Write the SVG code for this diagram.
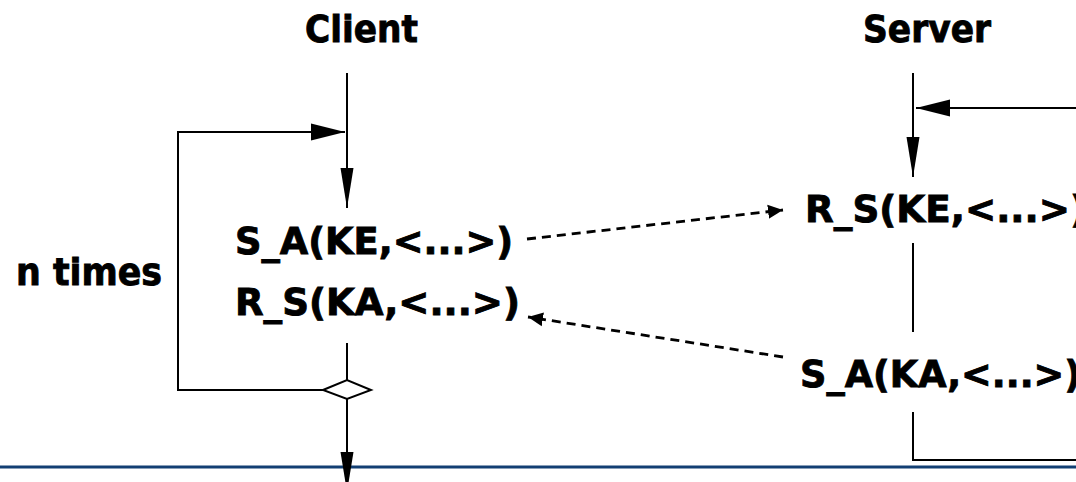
<svg xmlns="http://www.w3.org/2000/svg" width="1076" height="482" viewBox="0 0 1076 482">
  <style>
    .t { font-family: "DejaVu Sans", Verdana, sans-serif; font-weight: bold; font-size: 38px; fill: #000; stroke: #000; stroke-width: 0.9; }
    .ln { fill: none; stroke: #000; stroke-width: 2; }
    .dash { fill: none; stroke: #000; stroke-width: 2.8; stroke-dasharray: 9 6; }
  </style>
  <defs>
    <marker id="arrowV" markerUnits="userSpaceOnUse" markerWidth="42" markerHeight="16" viewBox="0 0 42 16" refX="40" refY="8" orient="auto">
      <polygon points="0,1.5 40,8 0,14.5" fill="#000"/>
    </marker>
    <marker id="arrowH" markerUnits="userSpaceOnUse" markerWidth="36" markerHeight="20" viewBox="0 0 36 20" refX="34" refY="10" orient="auto">
      <polygon points="0,1.5 34,10 0,18.5" fill="#000"/>
    </marker>
    <marker id="arrowS" markerUnits="userSpaceOnUse" markerWidth="17" markerHeight="16" viewBox="0 0 17 16" refX="15" refY="8" orient="auto">
      <polygon points="0,1 15,8 0,15" fill="#000"/>
    </marker>
  </defs>

  <rect x="0" y="0" width="1076" height="482" fill="#fff"/>

  <line x1="0" y1="467" x2="1076" y2="467" stroke="#123f73" stroke-width="3"/>

  <g id="client">
    <text class="t" x="305" y="42" textLength="113" lengthAdjust="spacingAndGlyphs">Client</text>
  </g>
  <g id="server">
    <text class="t" x="863" y="42" textLength="128" lengthAdjust="spacingAndGlyphs">Server</text>
  </g>
  <g id="n-times">
    <text class="t" x="16" y="285" textLength="146" lengthAdjust="spacingAndGlyphs">n times</text>
  </g>
  <g id="client-send-ke">
    <text class="t" x="235" y="254" textLength="278" lengthAdjust="spacingAndGlyphs">S_A(KE,&lt;...&gt;)</text>
  </g>
  <g id="client-recv-ka">
    <text class="t" x="235" y="315" textLength="285" lengthAdjust="spacingAndGlyphs">R_S(KA,&lt;...&gt;)</text>
  </g>
  <g id="server-recv-ke">
    <text class="t" x="805" y="222" textLength="282" lengthAdjust="spacingAndGlyphs">R_S(KE,&lt;...&gt;)</text>
  </g>
  <g id="server-send-ka">
    <text class="t" x="800" y="387" textLength="281" lengthAdjust="spacingAndGlyphs">S_A(KA,&lt;...&gt;)</text>
  </g>
  <g id="decision">
    <polygon points="323,390 347,380 371,390 347,399" fill="#fff" stroke="#000" stroke-width="2"/>
  </g>

  <g id="connectors">
    <path class="ln" d="M347,73 V208" marker-end="url(#arrowV)"/>
    <path class="ln" d="M323,390 H178 V132 H345" marker-end="url(#arrowH)"/>
    <path class="ln" d="M347,343 V380"/>
    <path class="ln" d="M347,399 V492" marker-end="url(#arrowV)"/>
    <path class="ln" d="M913,73 V177" marker-end="url(#arrowV)"/>
    <path class="ln" d="M1076,108 H916" marker-end="url(#arrowH)"/>
    <path class="ln" d="M913,243 V332"/>
    <path class="ln" d="M913,412 V460 H1076"/>
    <path class="dash" d="M527,239 L783,210" marker-end="url(#arrowS)"/>
    <path class="dash" d="M783,357 L528,317" marker-end="url(#arrowS)"/>
  </g>
</svg>
